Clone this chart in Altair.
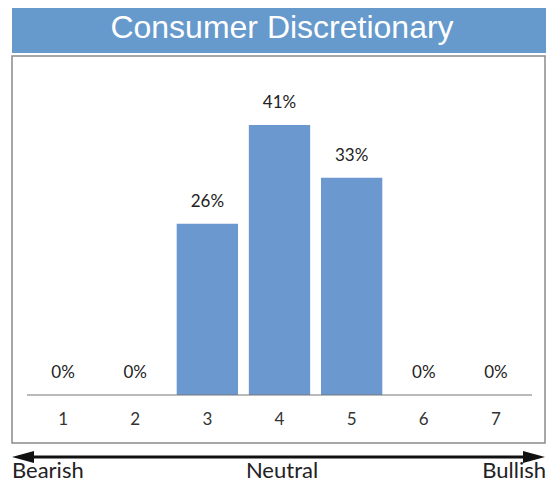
import altair as alt
import pandas as pd

categories = ["1", "2", "3", "4", "5", "6", "7"]
values = [0, 0, 26, 41, 33, 0, 0]
labels = ["0%", "0%", "26%", "41%", "33%", "0%", "0%"]
title_text = "Consumer Discretionary"
scale_words = ["Bearish", "Neutral", "Bullish"]

df = pd.DataFrame({"cat": categories, "val": values, "lab": labels})
one = pd.DataFrame({"a": [0]})

BAR = "#6b98cf"
BANNER = "#6699cc"
FONT = "Lato"

W, H = 505, 339
xenc = alt.X("cat:N", sort=categories,
             scale=alt.Scale(paddingInner=0.15, paddingOuter=0.075),
             axis=alt.Axis(title=None, labelAngle=0, domain=False, ticks=False,
                           labelPadding=16, labelFontSize=17, labelColor="#333",
                           labelFont=FONT, grid=False, zindex=2))
yscale = alt.Scale(domain=[0, 51.5])

base = alt.Chart(df)

banner = alt.Chart(one).mark_rect(color=BANNER).encode(
    x=alt.value(-15), x2=alt.value(519), y=alt.value(-48), y2=alt.value(-3))
banner_text = alt.Chart(one).mark_text(
    text=title_text, color="white", font="Liberation Sans", fontSize=32,
    align="center", baseline="middle").encode(x=alt.value(255), y=alt.value(-28))
box = alt.Chart(one).mark_rect(fillOpacity=0, stroke="#8a8a8a", strokeWidth=1.5).encode(
    x=alt.value(-15), x2=alt.value(518), y=alt.value(0), y2=alt.value(387))

bars = base.mark_bar(color=BAR).encode(
    x=xenc, y=alt.Y("val:Q", scale=yscale, axis=None))
vlabels = base.mark_text(font=FONT, fontSize=17, color="#222", baseline="middle", dy=-22).encode(
    x=alt.X("cat:N", sort=categories), y=alt.Y("val:Q", scale=yscale), text="lab:N")
baseline = alt.Chart(one).mark_rule(color="#777", strokeWidth=1.2).encode(
    x=alt.value(0), x2=alt.value(W), y=alt.value(H))

arrow = alt.Chart(one).mark_rule(color="#111", strokeWidth=3).encode(
    x=alt.value(-8), x2=alt.value(511), y=alt.value(401))
head_l = alt.Chart(one).mark_point(shape="M-1,0L1,-0.55L1,0.55Z", size=484, filled=True,
                                   color="#111", opacity=1).encode(
    x=alt.value(-4), y=alt.value(401))
head_r = alt.Chart(one).mark_point(shape="M1,0L-1,-0.55L-1,0.55Z", size=484, filled=True,
                                   color="#111", opacity=1).encode(
    x=alt.value(507), y=alt.value(401))

word_style = dict(font=FONT, fontSize=22, color="#222", baseline="bottom")
w_left = alt.Chart(one).mark_text(text=scale_words[0], align="left", **word_style).encode(
    x=alt.value(-15), y=alt.value(427))
w_mid = alt.Chart(one).mark_text(text=scale_words[1], align="center", **word_style).encode(
    x=alt.value(255), y=alt.value(427))
w_right = alt.Chart(one).mark_text(text=scale_words[2], align="right", **word_style).encode(
    x=alt.value(519), y=alt.value(427))

chart = alt.layer(
    banner, banner_text, box, bars, vlabels, baseline, arrow, head_l, head_r,
    w_left, w_mid, w_right
).properties(
    width=W, height=H,
    autosize=alt.AutoSizeParams(type="none"),
    padding={"left": 19, "top": 48, "right": 14, "bottom": 89},
    background="white",
).configure_view(stroke=None)

chart.save("out.html", embed_options={"renderer": "svg", "actions": False})
